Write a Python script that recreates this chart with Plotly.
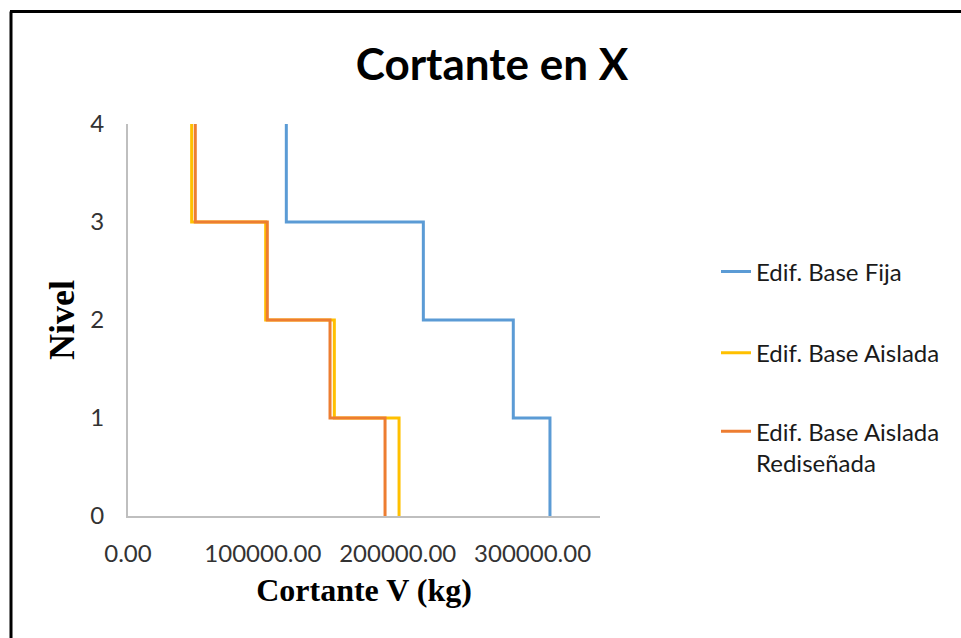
import plotly.graph_objects as go

# Story levels (top to base) and story shear per series; the last value
# repeats the first-story shear so the step reaches the base.
niveles = [4, 3, 2, 1, 0]
v_base_fija = [117400, 219000, 285700, 312900, 312900]
v_base_aislada = [47200, 102100, 153000, 201000, 201000]
v_aislada_redisenada = [49900, 103300, 149800, 190600, 190600]

series = [
    ("Edif. Base Fija", v_base_fija, "#5B9BD5", "legend"),
    ("Edif. Base Aislada", v_base_aislada, "#FFC000", "legend2"),
    ("Edif. Base Aislada<br>Rediseñada", v_aislada_redisenada, "#ED7D31", "legend3"),
]

x_ticks = [0, 100000, 200000, 300000]
y_ticks = [0, 1, 2, 3, 4]

fig = go.Figure()
for name, vals, color, leg in series:
    fig.add_trace(go.Scatter(
        x=vals, y=niveles, mode="lines", name=name,
        line=dict(color=color, width=3, shape="vh"),
        legend=leg, showlegend=True,
    ))

W, H = 961, 638
L, R, T, B = 128, 600, 124.3, 515.7


def px(x):
    return (x - L) / (R - L)


def py(y):
    return (B - y) / (B - T)


tick_font = dict(family="Lato, Open Sans, sans-serif", size=24, color="#333333")
leg_font = dict(family="Lato, Open Sans, sans-serif", size=24, color="#1a1a1a")

fig.update_layout(
    width=W, height=H,
    showlegend=True,
    margin=dict(l=L, r=W - R, t=T, b=H - B, autoexpand=False),
    paper_bgcolor="white", plot_bgcolor="white",
    title=dict(
        text="<b>Cortante en X</b>",
        font=dict(family="Lato, Open Sans, sans-serif", size=44, color="black"),
        x=px(492), xref="paper", xanchor="center",
        y=1 - 65 / H, yref="container", yanchor="middle",
    ),
    xaxis=dict(
        range=[0, 350000], tickvals=x_ticks, tickformat=".2f",
        showgrid=False, zeroline=False,
        showline=True, linecolor="#BFBFBF", linewidth=2,
        ticks="outside", ticklen=15, tickcolor="rgba(0,0,0,0)",
        tickfont=tick_font,
        title=dict(
            text="<b>Cortante V (kg)</b>",
            font=dict(family="Liberation Serif, Times New Roman, serif", size=32, color="black"),
            standoff=13,
        ),
        automargin=False,
    ),
    yaxis=dict(
        range=[0, 4], tickvals=y_ticks,
        showgrid=False, zeroline=False,
        showline=True, linecolor="#BFBFBF", linewidth=2,
        ticks="outside", ticklen=17, tickcolor="rgba(0,0,0,0)",
        tickfont=tick_font,
        title=dict(
            text="<b>Nivel</b>",
            font=dict(family="Liberation Serif, Times New Roman, serif", size=36, color="black"),
            standoff=5,
        ),
        automargin=False,
    ),
    legend=dict(x=px(716), y=py(272), xanchor="left", yanchor="middle",
                font=leg_font, bgcolor="rgba(0,0,0,0)"),
    legend2=dict(x=px(716), y=py(353), xanchor="left", yanchor="middle",
                 font=leg_font, bgcolor="rgba(0,0,0,0)"),
    legend3=dict(x=px(716), y=py(447), xanchor="left", yanchor="middle",
                 font=leg_font, bgcolor="rgba(0,0,0,0)", valign="top"),
    shapes=[
        # chart frame: left and top edges
        dict(type="line", xref="paper", yref="paper",
             x0=px(11), x1=px(11), y0=py(12), y1=py(700),
             line=dict(color="black", width=3)),
        dict(type="line", xref="paper", yref="paper",
             x0=px(10), x1=px(1000), y0=py(12), y1=py(12),
             line=dict(color="black", width=3)),
    ],
)

fig.write_html("out.html")
